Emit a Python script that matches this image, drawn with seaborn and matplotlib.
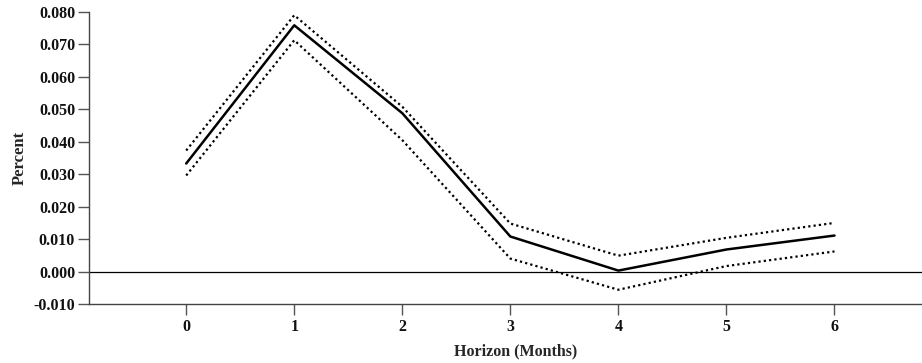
import matplotlib
matplotlib.use("Agg")
import matplotlib.pyplot as plt
import seaborn as sns
import pandas as pd
from matplotlib.ticker import FormatStrFormatter

# impulse response values
horizon = [0, 1, 2, 3, 4, 5, 6]
response = [0.0333, 0.0759, 0.0488, 0.0108, 0.0003, 0.0068, 0.0111]
upper_band = [0.0373, 0.0790, 0.0508, 0.0148, 0.0049, 0.0104, 0.0150]
lower_band = [0.0296, 0.0713, 0.0405, 0.0040, -0.0056, 0.0017, 0.0062]

df = pd.DataFrame({
    "horizon": horizon,
    "response": response,
    "upper": upper_band,
    "lower": lower_band,
})

sns.set_style("ticks")
plt.rcParams["font.family"] = ["Liberation Serif", "DejaVu Serif"]
plt.rcParams["font.weight"] = "bold"

fig = plt.figure(figsize=(9.22, 3.63), dpi=100)
ax = fig.add_axes([0.0965, 0.1625, 0.9035, 0.8045])

sns.lineplot(data=df, x="horizon", y="response", color="black", lw=1.8, ax=ax)
sns.lineplot(data=df, x="horizon", y="upper", color="black", lw=1.6,
             linestyle=(0, (1, 1.4)), ax=ax)
sns.lineplot(data=df, x="horizon", y="lower", color="black", lw=1.6,
             linestyle=(0, (1, 1.4)), ax=ax)
ax.axhline(0, color="black", lw=0.9)

ax.set_xlim(-0.9, 6.81)
ax.set_ylim(-0.010, 0.080)
ax.set_xticks(horizon)
ax.set_yticks([-0.01, 0.0, 0.01, 0.02, 0.03, 0.04, 0.05, 0.06, 0.07, 0.08])
ax.yaxis.set_major_formatter(FormatStrFormatter("%.3f"))

for side in ["top", "right"]:
    ax.spines[side].set_visible(False)
for side in ["left", "bottom"]:
    ax.spines[side].set_color("#444444")
    ax.spines[side].set_linewidth(1.0)

ax.tick_params(axis="both", direction="out", length=8, width=1.0,
               color="#555555", labelsize=11.5, labelcolor="#111111", pad=3)
ax.tick_params(axis="y", pad=2)

ax.set_xlabel("Horizon (Months)", fontsize=11.5, fontweight="bold")
ax.set_ylabel("Percent", fontsize=12, fontweight="bold")
ax.xaxis.set_label_coords(0.512, -0.134)
ax.yaxis.set_label_coords(-0.074, 0.5)

fig.savefig("out.png", dpi=100)
